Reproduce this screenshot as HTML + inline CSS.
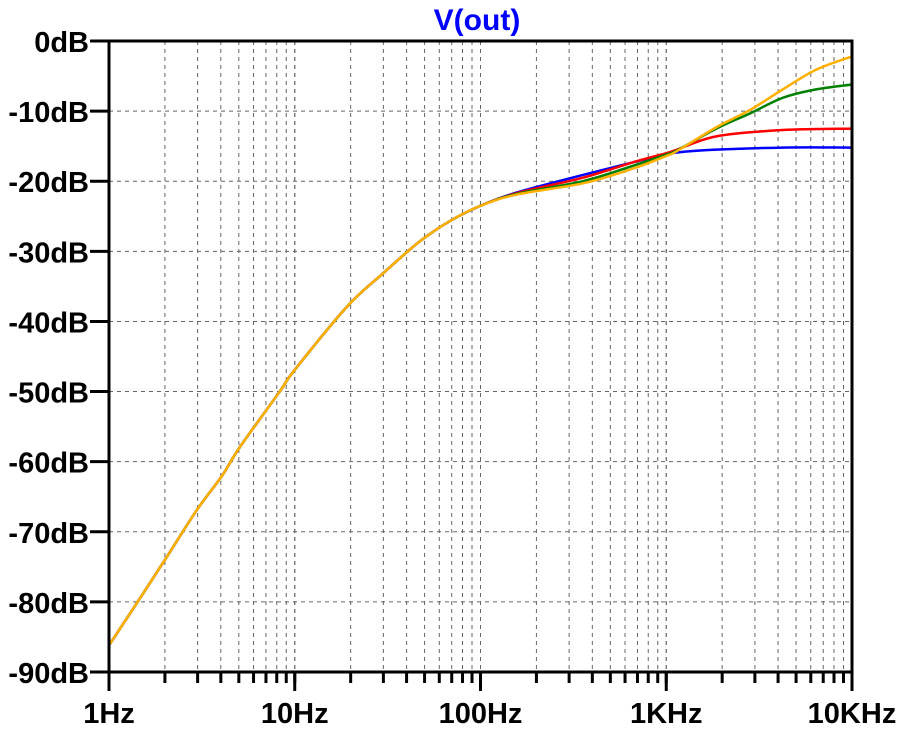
<!DOCTYPE html>
<html><head><meta charset="utf-8"><style>
body{margin:0;background:#fff;}
svg text{font-family:"Liberation Sans",sans-serif;font-weight:bold;}
</style></head><body>
<svg id="chart" width="907" height="731" xmlns="http://www.w3.org/2000/svg">
<rect width="907" height="731" fill="#fff"/>
<text x="477" y="30" fill="#0000ff" font-size="30" text-anchor="middle">V(out)</text>
<g id="grid"></g><g id="series"></g><g id="axes"></g>
</svg>
<script>
const lowFreq=[1,1.41,2,2.97,4.04,5.07,8.3,10,19.1,30,47,68.3,100];
const lowDb=[-86.2,-80.2,-74.0,-66.9,-62.1,-57.9,-50.0,-46.9,-37.9,-33.1,-28.6,-25.7,-23.5];
const blueFreq=[157,356,662,1000,1142,1860,4240,10000];
const blueDb=[-21.6,-19.1,-17.3,-16.2,-15.9,-15.5,-15.2,-15.2];
const redFreq=[157,356,662,1000,1142,1860,4240,10000];
const redDb=[-21.7,-19.5,-17.3,-16.0,-15.5,-13.6,-12.7,-12.5];
const greenFreq=[157,356,662,1000,1142,1860,2840,4240,6400,10000];
const greenDb=[-21.8,-20.0,-17.8,-16.2,-15.6,-12.5,-10.3,-8.1,-6.9,-6.2];
const yellowFreq=[157,356,662,1000,1142,1860,2840,4240,6400,10000];
const yellowDb=[-21.9,-20.3,-18.2,-16.4,-15.7,-12.3,-9.8,-6.9,-4.1,-2.2];
const yTicks=[0,-10,-20,-30,-40,-50,-60,-70,-80,-90];
const xTickVals=[1,10,100,1000,10000];
const xTickLabels=["1Hz","10Hz","100Hz","1KHz","10KHz"];

const X0=109,X1=852,Y0=41,Y1=672;
const xs=f=>X0+(Math.log10(f)-0)/4*(X1-X0);
const ys=d=>Y0+(0-d)/90*(Y1-Y0);
const NS="http://www.w3.org/2000/svg";
function mk(tag,parent,attrs){const e=document.createElementNS(NS,tag);for(const k in attrs)e.setAttribute(k,attrs[k]);parent.appendChild(e);return e;}
const grid=document.getElementById('grid'),axes=document.getElementById('axes'),ser=document.getElementById('series');
for(let dec=0;dec<4;dec++){for(let m=1;m<=10;m++){if(m===1&&dec===0)continue;const f=m*Math.pow(10,dec);const x=xs(f);
 if(f<10000){const l=mk('line',grid,{x1:x,y1:Y0,x2:x,y2:Y1,stroke:'#666','stroke-width':1,'stroke-dasharray':'4,4'});
 }
 const t=mk('line',axes,{x1:x,y1:Y1,x2:x,y2:(m===10?Y1+19:Y1+11),stroke:'#000','stroke-width':3});
 }}
yTicks.forEach(d=>{const y=ys(d);
 if(d!==0&&d!==-90){const l=mk('line',grid,{x1:X0,y1:y,x2:X1,y2:y,stroke:'#666','stroke-width':1,'stroke-dasharray':'4,4'});
 }
 const t=mk('line',axes,{x1:90,y1:y,x2:X0,y2:y,stroke:'#000','stroke-width':3});
 
 const tx=mk('text',axes,{x:89,y:y+11,'font-size':29,'text-anchor':'end',fill:'#000'});tx.textContent=d+'dB';
 });
xTickVals.forEach((f,i)=>{const tx=mk('text',axes,{x:xs(f),y:723,'font-size':29,'text-anchor':'middle',fill:'#000'});tx.textContent=xTickLabels[i];
 });
const fr=mk('path',axes,{d:`M${X0},${Y1+19}V${Y0}H${X1}V${Y1}H${X0}`,fill:'none',stroke:'#000','stroke-width':3});

function curve(fa,da,color,name){const f=lowFreq.concat(fa),d=lowDb.concat(da);
 const p=f.map((v,i)=>[xs(v),ys(d[i])]);let s=`M${p[0][0]},${p[0][1]}`;
 for(let i=0;i<p.length-1;i++){const a=p[Math.max(0,i-1)],b=p[i],c=p[i+1],e=p[Math.min(p.length-1,i+2)];
  s+=` C${b[0]+(c[0]-a[0])/6},${b[1]+(c[1]-a[1])/6} ${c[0]-(e[0]-b[0])/6},${c[1]-(e[1]-b[1])/6} ${c[0]},${c[1]}`;}
 const el=mk('path',ser,{d:s,fill:'none',stroke:color,'stroke-width':2.5});
 }
curve(blueFreq,blueDb,'#0000ff','series-blue');
curve(redFreq,redDb,'#ff0000','series-red');
curve(greenFreq,greenDb,'#008000','series-green');
curve(yellowFreq,yellowDb,'#ffb000','series-yellow');
</script>
</body></html>
